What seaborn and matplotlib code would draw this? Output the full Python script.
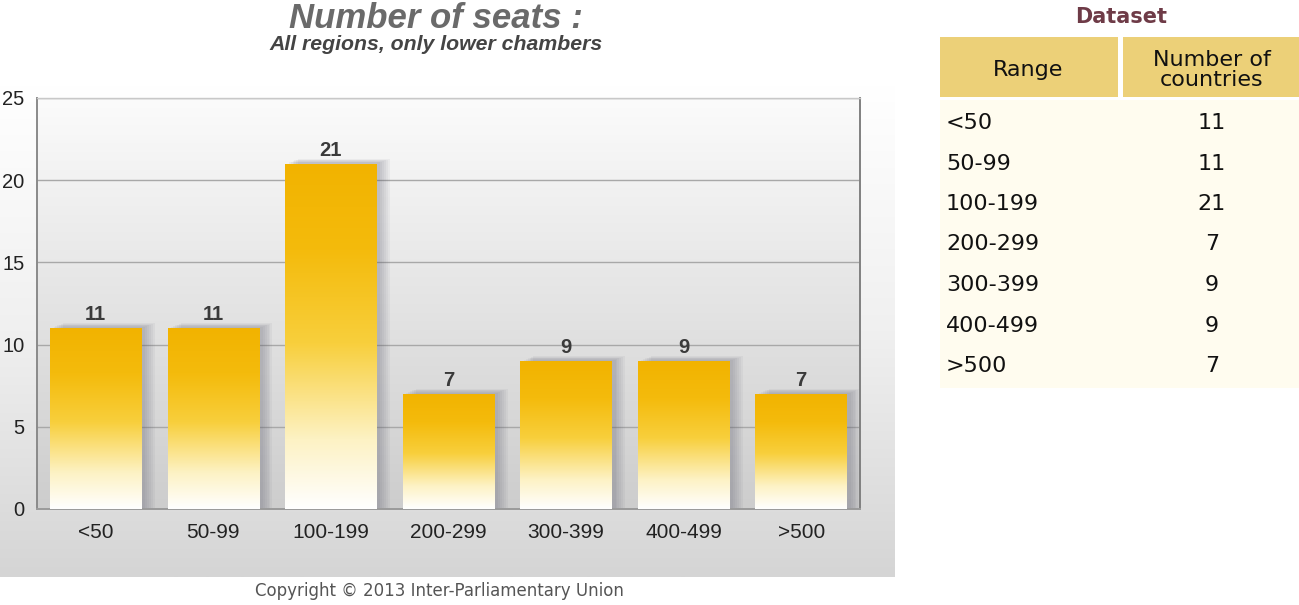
import numpy as np
import pandas as pd
import matplotlib
matplotlib.use("Agg")
import matplotlib.pyplot as plt
from matplotlib.colors import LinearSegmentedColormap
from matplotlib.patches import Rectangle
import seaborn as sns

# ---- data ----
ranges = ["<50", "50-99", "100-199", "200-299", "300-399", "400-499", ">500"]
countries = [11, 11, 21, 7, 9, 9, 7]
y_ticks = [0, 5, 10, 15, 20, 25]
title = "Number of seats :"
subtitle = "All regions, only lower chambers"
copyright_text = "Copyright \u00a9 2013 Inter-Parliamentary Union"
table_title = "Dataset"
table_headers = ["Range", "Number of\ncountries"]

sns.set_theme(style="white")
plt.rcParams['font.family'] = ['Liberation Sans', 'DejaVu Sans']

W, H = 1299, 605
fig = plt.figure(figsize=(W / 100, H / 100), dpi=100)
fig.patch.set_facecolor("white")

def px_axes(x0, y0, x1, y1, **kw):
    return fig.add_axes([x0 / W, 1 - y1 / H, (x1 - x0) / W, (y1 - y0) / H], **kw)

# ---- gray gradient panel behind chart ----
bg = px_axes(0, 85, 895, 577)
bg.set_axis_off()
grad_bg = LinearSegmentedColormap.from_list("bg", ["#ffffff", "#f0f0f0", "#d5d5d5"])
bg.imshow(np.linspace(0, 1, 256).reshape(-1, 1), aspect="auto", cmap=grad_bg,
          extent=[0, 1, 0, 1], origin="upper")
bg.set_zorder(0)

# ---- main axes ----
ax = px_axes(37, 98, 860, 509)
ax.set_zorder(1)
ax.patch.set_alpha(0)

# plot-area gradient
grad_plot = LinearSegmentedColormap.from_list("pl", ["#cdcdcd", "#e4e4e4", "#fbfbfb"])
ax.imshow(np.linspace(0, 1, 256).reshape(-1, 1), aspect="auto", cmap=grad_plot,
          extent=[-0.5, 6.5, 0, 25], origin="lower", zorder=0)

df = pd.DataFrame({"Range": ranges, "Countries": countries})
sns.barplot(data=df, x="Range", y="Countries", width=0.78, color="#F3B400",
            ax=ax, zorder=3, linewidth=0)

bar_cmap = LinearSegmentedColormap.from_list(
    "bar", [(0.0, "#ffffff"), (0.2, "#fdf2c4"), (0.48, "#f8cf3c"),
            (0.75, "#f4bb0c"), (1.0, "#f2b300")])

px_x = 7 / 823.0
px_y = 25 / 411.0
for p, v in zip(ax.patches, countries):
    x0, w, h = p.get_x(), p.get_width(), p.get_height()
    # soft shadow
    for k in range(6):
        off = 3 + k * 1.6
        ax.add_patch(Rectangle((x0 + off * px_x * 1.2, 0),
                               w, h + off * px_y * 0.45,
                               facecolor="#555566", alpha=0.06,
                               linewidth=0, zorder=2))
    im = ax.imshow(np.linspace(0, 1, 256).reshape(-1, 1), aspect="auto",
                   cmap=bar_cmap, extent=[x0, x0 + w, 0, h], origin="lower",
                   zorder=4)
    im.set_clip_path(p)
    ax.text(x0 + w / 2, h + 0.25, f"{v}", ha="center", va="bottom",
            fontsize=14.5, fontweight="bold", color="#3a3a3a", zorder=5)

ax.set_aspect("auto")
ax.set_xlim(-0.5, 6.5)
ax.set_ylim(0, 25)
ax.set_yticks(y_ticks)
ax.set_yticklabels([str(t) for t in y_ticks], fontsize=14.5, color="#222222")
ax.set_xticks(range(len(ranges)))
ax.set_xticklabels(ranges, fontsize=15, color="#222222")
ax.set_xticks(np.arange(0.5, 6.5, 1), minor=True)
ax.tick_params(axis="x", which="major", length=0, pad=10)
ax.tick_params(axis="x", which="minor", length=5, color="#888888", width=1, direction="out")
ax.tick_params(axis="y", which="major", length=3, color="#888888", pad=6, direction="out")
ax.set_xlabel("")
ax.set_ylabel("")
ax.grid(False)
for yv in y_ticks[1:]:
    ax.axhline(yv, color="#a8a8a8", lw=1.0, zorder=1)
for side, col in [("left", "#8a8a8a"), ("bottom", "#9a9a9a"),
                  ("right", "#808080"), ("top", "#c8c8c8")]:
    ax.spines[side].set_visible(True)
    ax.spines[side].set_color(col)
    ax.spines[side].set_linewidth(1.4 if side != "top" else 1.0)

# ---- titles ----
fig.text(436 / W, 1 - 18 / H, title, ha="center", va="center", fontsize=25,
         fontweight="bold", fontstyle="italic", color="#6a6a6a")
fig.text(436 / W, 1 - 45 / H, subtitle, ha="center", va="center", fontsize=15.3,
         fontweight="bold", fontstyle="italic", color="#444444")
fig.text(439 / W, 1 - 591 / H, copyright_text, ha="center", va="center",
         fontsize=12, color="#555555", family=["DejaVu Sans"])

# ---- dataset table ----
tab = px_axes(0, 0, W, H)
tab.set_xlim(0, W)
tab.set_ylim(H, 0)
tab.set_axis_off()
tab.set_zorder(2)
tab.patch.set_alpha(0)

tab.text(1121, 17, table_title, ha="center", va="center", fontsize=15,
         fontweight="bold", color="#6e3b47", family=["DejaVu Sans"])
tab.add_patch(Rectangle((940, 100), 359, 288, facecolor="#fffcef", linewidth=0))
tab.add_patch(Rectangle((940, 37), 178, 60, facecolor="#ecd078", linewidth=0))
tab.add_patch(Rectangle((1123, 37), 176, 60, facecolor="#ecd078", linewidth=0))
tab.text(1028, 70, table_headers[0], ha="center", va="center", fontsize=16,
         color="#111111", family=["DejaVu Sans"])
tab.text(1212, 70, table_headers[1], ha="center", va="center", fontsize=16,
         color="#111111", family=["DejaVu Sans"], linespacing=0.95)
row_y0, row_dy = 123, 40.5
for i, (r, c) in enumerate(zip(ranges, countries)):
    yy = row_y0 + i * row_dy
    tab.text(946, yy, r, ha="left", va="center", fontsize=16, color="#111111",
             family=["DejaVu Sans"])
    tab.text(1212, yy, str(c), ha="center", va="center", fontsize=16,
             color="#111111", family=["DejaVu Sans"])

fig.savefig("out.png", dpi=100, facecolor="white")
